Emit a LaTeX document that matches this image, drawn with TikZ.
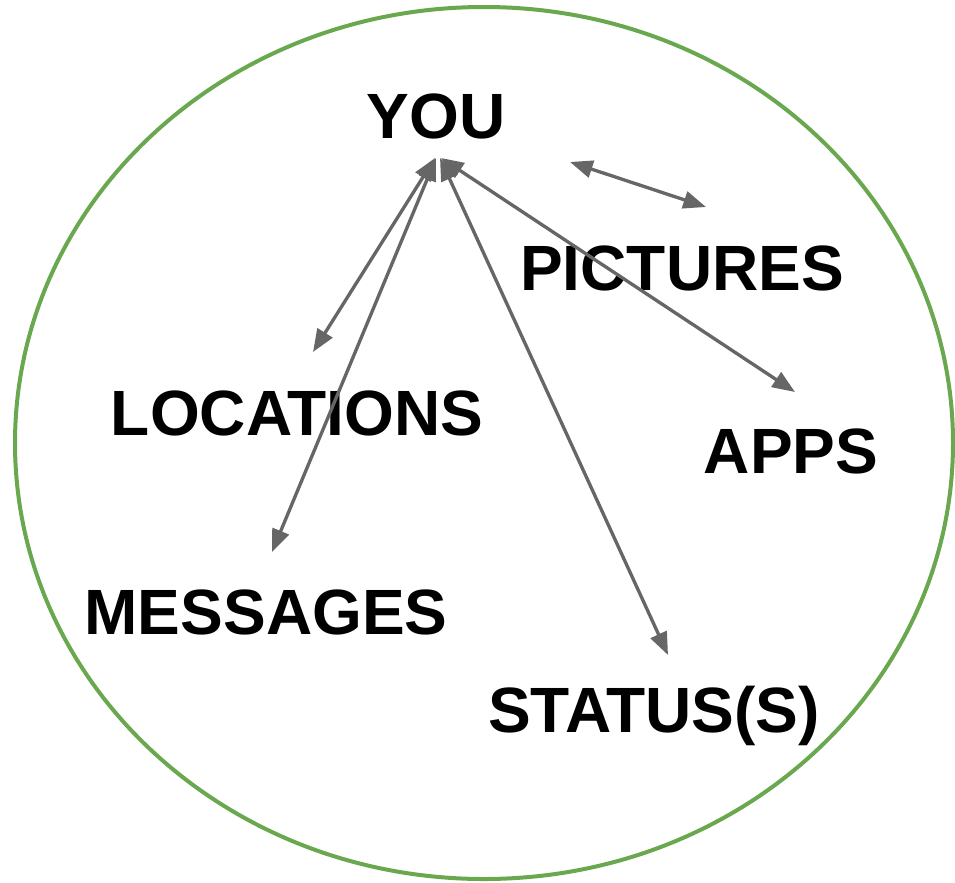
\documentclass[tikz,border=0pt]{standalone}
\usepackage{fontspec}
\setmainfont{Liberation Sans}
\usetikzlibrary{arrows.meta}
\begin{document}
\begin{tikzpicture}[x=0.75pt,y=-0.75pt,
  lbl/.style={anchor=base,inner sep=0pt,font=\fontsize{48}{48}\selectfont\bfseries},
  conn/.style={draw={rgb,255:red,102;green,102;blue,102},line width=2.5pt,
    {Triangle[length=17pt,width=13pt]}-{Triangle[length=17pt,width=13pt]}}]
\useasboundingbox (0,0) rectangle (955,882);
\draw[draw={rgb,255:red,106;green,168;blue,79},line width=3pt] (484,443) ellipse [x radius=469, y radius=436];
\node[lbl] (you) at (436,138) {YOU};
\node[lbl] (pic) at (682,290) {PICTURES};
\node[lbl] (loc) at (297,435) {LOCATIONS};
\node[lbl] (apps) at (791,473) {APPS};
\node[lbl] (msg) at (266,634) {MESSAGES};
\node[lbl] (st) at (654,732) {STATUS(S)};
\coordinate (y1) at (435,158);
\coordinate (y2) at (436,158);
\coordinate (y3) at (440,158);
\coordinate (y4) at (441,158);
\coordinate (l1) at (313,352);
\coordinate (m1) at (272,552);
\coordinate (s1) at (668,655);
\coordinate (a1) at (795,392);
\coordinate (p1) at (570,162);
\coordinate (p2) at (706,207);
\draw[conn] (y1) -- (l1);
\draw[conn] (y2) -- (m1);
\draw[conn] (y3) -- (s1);
\draw[conn] (y4) -- (a1);
\draw[conn] (p1) -- (p2);
\end{tikzpicture}
\end{document}
